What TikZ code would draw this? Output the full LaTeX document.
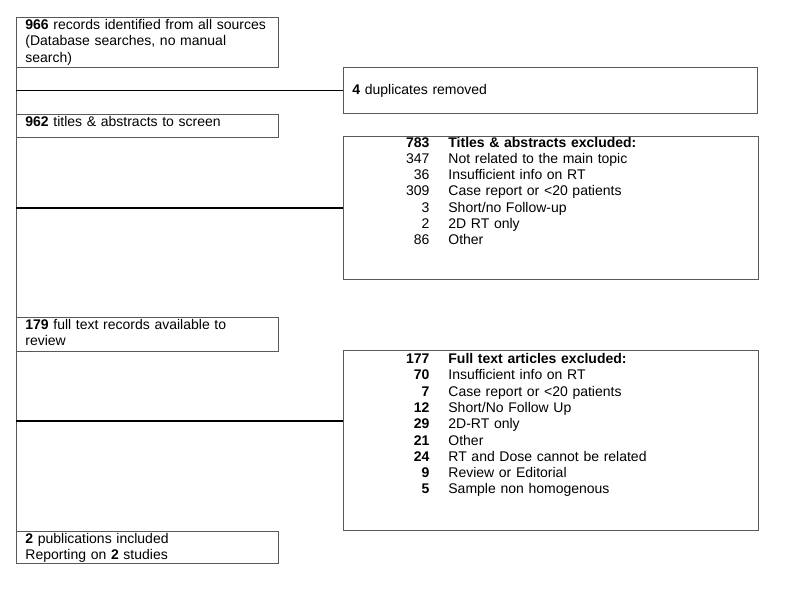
\documentclass[tikz,border=0pt]{standalone}
\usepackage{fontspec}
\setmainfont{Liberation Sans}
\newcommand{\fixbox}[2]{\parbox[c][#1][t]{\linewidth}{#2}}
\newcommand{\exrow}[2]{\makebox[77pt][r]{#1}\hspace{19pt}#2\par}
\begin{document}
\begin{tikzpicture}[x=1pt,y=-1pt,
				    box/.style={draw=black!65,line width=0.8pt,anchor=north west,
				      inner xsep=9pt,inner ysep=2pt,align=left,
				      font=\fontsize{14}{16.3}\selectfont},
				    narrow/.style={box,text width=244pt},
				    wide/.style={box,text width=397pt},
				    trunk/.style={draw=black!65,line width=0.8pt},
				    link/.style={draw=black,line width=1.6pt}]
				\useasboundingbox (0,0) rectangle (787,595);
				\node[narrow] (src) at (16,17) {\fixbox{46pt}{%
				  \textbf{966} records identified from all sources\\
				  (Database searches, no manual\\
				  search)}};
				\node[box,text width=396pt,minimum height=46pt] (dup) at (343,67) {%
				  \textbf{4} duplicates removed};
				\node[narrow] (screen) at (16,114) {\fixbox{19pt}{%
				  \textbf{962} titles \& abstracts to screen}};
				\node[wide] (excl1) at (343,136) {\fixbox{139pt}{\vspace*{-1.5pt}%
				  \exrow{\textbf{783}}{\textbf{Titles \& abstracts excluded:}}
				  \exrow{347}{Not related to the main topic}
				  \exrow{36}{Insufficient info on RT}
				  \exrow{309}{Case report or <20 patients}
				  \exrow{3}{Short/no Follow-up}
				  \exrow{2}{2D RT only}
				  \exrow{86}{Other}}};
				\node[narrow] (fulltext) at (16,317) {\fixbox{30pt}{%
				  \textbf{179} full text records available to\\
				  review}};
				\node[wide] (excl2) at (343,350) {\fixbox{176pt}{\vspace*{1pt}%
				  \exrow{\textbf{177}}{\textbf{Full text articles excluded:}}
				  \exrow{\textbf{70}}{Insufficient info on RT}
				  \exrow{\textbf{7}}{Case report or <20 patients}
				  \exrow{\textbf{12}}{Short/No Follow Up}
				  \exrow{\textbf{29}}{2D-RT only}
				  \exrow{\textbf{21}}{Other}
				  \exrow{\textbf{24}}{RT and Dose cannot be related}
				  \exrow{\textbf{9}}{Review or Editorial}
				  \exrow{\textbf{5}}{Sample non homogenous}}};
				\node[narrow] (incl) at (16,531) {\fixbox{28pt}{%
				  \textbf{2} publications included\\
				  Reporting on \textbf{2} studies}};
				\coordinate (tap2) at (16,421);
				\draw[trunk] (src.south west) -- (incl.north west);
				\draw[link] (src.west |- dup.west) -- (dup.west);
				\draw[link] (src.west |- excl1.west) -- (excl1.west);
				\draw[link] (tap2) -- (tap2 -| excl2.west);
			\end{tikzpicture}
\end{document}
